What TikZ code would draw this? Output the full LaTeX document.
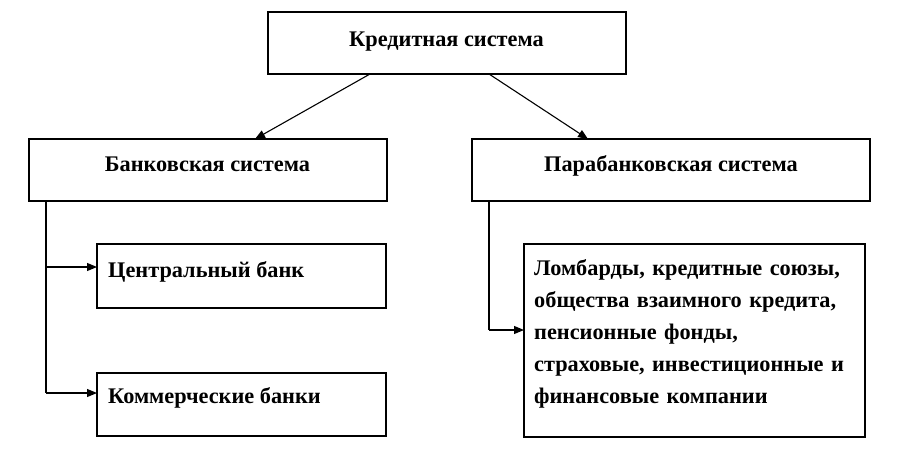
\documentclass[tikz,border=0pt]{standalone}
\usepackage{fontspec}
\setmainfont{Liberation Serif}
\usetikzlibrary{arrows.meta}
\begin{document}
\begin{tikzpicture}[x=1pt,y=-1pt,
  boxstyle/.style={draw, line width=1.1pt, inner sep=0pt},
  lbl/.style={font=\bfseries\fontsize{22.3}{32}\selectfont, inner sep=0pt},
  conn/.style={line width=1.1pt, -{Triangle[length=10pt,width=8pt]}}]
\useasboundingbox (0,0) rectangle (909,452);
\fill[white] (0,0) rectangle (909,452);
% boxes
\draw[boxstyle] (268,12) rectangle (626,74);
\node[lbl, anchor=base] (kred) at (446.5,46) {Кредитная система};
\draw[boxstyle] (29,139) rectangle (387,201);
\node[lbl, anchor=base] (bank) at (207.5,171) {Банковская система};
\draw[boxstyle] (472,139) rectangle (870,201);
\node[lbl, anchor=base] (para) at (671,171) {Парабанковская система};
\draw[boxstyle] (97,244) rectangle (386,308);
\node[lbl, anchor=base west] (cb) at (108,277) {Центральный банк};
\draw[boxstyle] (97,373) rectangle (386,436);
\node[lbl, anchor=base west] (kb) at (108,403) {Коммерческие банки};
\draw[boxstyle] (524,244) rectangle (865,437);
\node[lbl, anchor=base west, align=left, text width=330pt] (lomb) at (534,275)
 {Ломбарды, кредитные союзы,\\общества взаимного кредита,\\пенсионные фонды,\\страховые, инвестиционные и\\финансовые компании};
% connectors
\coordinate (t1) at (370,74);
\coordinate (t2) at (489,74);
\coordinate (b1) at (255,139);
\coordinate (b2) at (588,139);
\draw[conn] (t1) -- (b1);
\draw[conn] (t2) -- (b2);
\coordinate (v1) at (46,201);
\coordinate (v2) at (46,393);
\draw[line width=1.1pt] (v1) -- (v2);
\draw[conn] (46,267) coordinate (h1) -- (97,267) coordinate (e1);
\draw[conn] (v2) -- (97,393) coordinate (e2);
\coordinate (w1) at (489,201);
\draw[line width=1.1pt] (w1) -- (489,330) coordinate (w2);
\draw[conn] (w2) -- (524,330) coordinate (e3);
\end{tikzpicture}
\end{document}
